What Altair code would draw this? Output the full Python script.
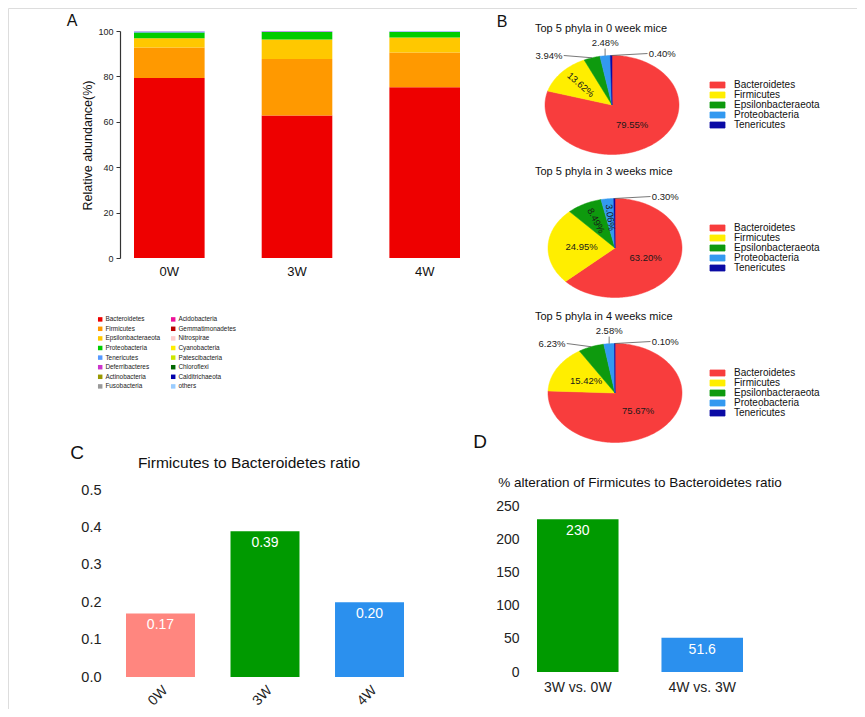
import math
import altair as alt
import numpy as np
import pandas as pd

# ---------------- data ----------------
# Panel A: relative abundance (%) of phyla per group
weeks = ["0W", "3W", "4W"]
phyla = ["Bacteroidetes", "Firmicutes", "Epsilonbacteraeota", "Proteobacteria",
         "Tenericutes", "Deferribacteres", "Actinobacteria", "Fusobacteria",
         "Acidobacteria", "Gemmatimonadetes", "Nitrospirae", "Cyanobacteria",
         "Patescibacteria", "Chloroflexi", "Calditrichaeota", "others"]
abund_0W = [79.3, 13.4, 4.1, 2.5, 0.3, 0.2, 0.0, 0.0, 0.0, 0.0, 0.0, 0.0, 0.0, 0.0, 0.0, 0.2]
abund_3W = [62.8, 24.9, 8.6, 3.3, 0.1, 0.2, 0.0, 0.0, 0.0, 0.0, 0.0, 0.0, 0.0, 0.0, 0.0, 0.1]
abund_4W = [75.2, 15.3, 6.6, 2.5, 0.1, 0.1, 0.0, 0.0, 0.0, 0.0, 0.0, 0.0, 0.0, 0.0, 0.0, 0.2]
phyla_colors = ["#EE0000", "#FF9900", "#FFC800", "#00CC00",
                "#5599FF", "#CC33CC", "#999900", "#999999",
                "#EE1199", "#BB0000", "#FFCCCC", "#FFEE00",
                "#CCE600", "#006600", "#0000AA", "#99CCFF"]

# Panel B: top 5 phyla (%)
pie_phyla = ["Bacteroidetes", "Firmicutes", "Epsilonbacteraeota", "Proteobacteria", "Tenericutes"]
pie_colors = ["#F83D3D", "#FFEE00", "#0E9A0E", "#3399F0", "#0A0AA5"]
pie_0W = [79.55, 13.62, 3.94, 2.48, 0.40]
pie_3W = [63.20, 24.95, 8.49, 3.06, 0.30]
pie_4W = [75.67, 15.42, 6.23, 2.58, 0.10]
pie_titles = ["Top 5 phyla in 0 week mice", "Top 5 phyla in 3 weeks mice", "Top 5 phyla in 4 weeks mice"]
# label placement style per slice
pie_modes_0W = ["in", "in_rot", "left", "top", "right"]
pie_modes_3W = ["in", "in", "in_rot", "in_rot", "right"]
pie_modes_4W = ["in", "in", "left", "top", "right"]

# Panel C
ratio_groups = ["0W", "3W", "4W"]
ratio_values = [0.17, 0.39, 0.20]
ratio_labels = ["0.17", "0.39", "0.20"]
ratio_colors = ["#FF867F", "#009A00", "#2B90EE"]

# Panel D
alter_groups = ["3W vs. 0W", "4W vs. 3W"]
alter_values = [230, 51.6]
alter_labels = ["230", "51.6"]
alter_colors = ["#009A00", "#2B90EE"]

# ---------------- layout helpers ----------------
W, H = 849, 701
def px(x):
    return x - 8
def py(y):
    return y - 8

FONT = "Liberation Sans, Arial, Helvetica, sans-serif"
NARROW = "Liberation Sans Narrow, Arial Narrow, Liberation Sans, sans-serif"

layers = []

# ---------------- Panel A ----------------
rows = []
for w, vals in zip(weeks, [abund_0W, abund_3W, abund_4W]):
    for i, (p, v) in enumerate(zip(phyla, vals)):
        rows.append({"week": w, "phylum": p, "value": v, "rank": i})
dfA = pd.DataFrame(rows)

A_bars = alt.Chart(dfA).mark_bar().encode(
    x=alt.X("week:N", sort=weeks,
            scale=alt.Scale(type="band", domain=weeks, range=[px(134), px(460)], paddingInner=0.447, paddingOuter=0),
            axis=alt.Axis(orient="bottom", offset=py(258) - H, title=None, domain=False, ticks=False,
                          labelAngle=0, labelFontSize=13, labelFont=NARROW, labelPadding=7,
                          labelColor="#111", grid=False)),
    y=alt.Y("value:Q", stack="zero",
            scale=alt.Scale(domain=[0, 100], range=[py(258), py(31)], nice=False, zero=True),
            axis=alt.Axis(orient="left", offset=-px(120), values=[0, 20, 40, 60, 80, 100],
                          title="Relative abundance(%)", titleFont=FONT, titleFontSize=12.5,
                          titleFontWeight="normal", titleColor="#111", titleAngle=-90,
                          titleX=87 - 120, titleY=py(145), titleAlign="center", titleBaseline="middle",
                          labelFont=NARROW, labelFontSize=9, labelColor="#222", labelPadding=3,
                          tickSize=4, tickColor="#333", domainColor="#333", domainWidth=1.2,
                          grid=False)),
    color=alt.Color("phylum:N",
                    scale=alt.Scale(domain=phyla, range=phyla_colors),
                    legend=alt.Legend(orient="none", legendX=px(97), legendY=py(316), title=None,
                                      columns=2, symbolType="square", symbolSize=20,
                                      symbolStrokeWidth=0, labelFontSize=6.4, labelFont=NARROW,
                                      labelColor="#222", labelOffset=2, rowPadding=2.6,
                                      columnPadding=9)),
    order=alt.Order("rank:Q", sort="ascending"),
)
layers.append(A_bars)

# ---------------- Panel B (pies) ----------------
pie_geo = [(612, 105), (615, 248), (615, 393)]
RX, RY = 67, 49.5


def pie_polygons(values):
    out = []
    total = sum(values)
    start = 0.0
    for name, v in zip(pie_phyla, values):
        a0 = start / total * 360.0
        a1 = (start + v) / total * 360.0
        n = max(2, int(math.ceil(a1 - a0)) + 1)
        pts = [(0.0, 0.0)]
        for a in np.linspace(a0, a1, n):
            pts.append((math.sin(math.radians(a)), math.cos(math.radians(a))))
        pts.append((0.0, 0.0))
        for i, (ux, uy) in enumerate(pts):
            out.append({"phylum": name, "idx": i, "ux": ux, "uy": uy})
        start += v
    return pd.DataFrame(out)


def pie_labels(values, modes):
    labs, lines = [], []
    total = sum(values)
    start = 0.0
    for name, v, mode in zip(pie_phyla, values, modes):
        mid = (start + v / 2.0) / total * 360.0
        sx, sy = math.sin(math.radians(mid)), math.cos(math.radians(mid))
        txt = f"{v:.2f}%"
        if mode == "in":
            labs.append({"label": txt, "ux": 0.5 * sx, "uy": 0.5 * sy, "ang": 0, "side": "center"})
        elif mode == "in_rot":
            labs.append({"label": txt, "ux": 0.62 * sx, "uy": 0.62 * sy, "ang": mid - 270, "side": "center"})
        elif mode == "left":
            labs.append({"label": txt, "ux": -0.74, "uy": 1.0, "ang": 0, "side": "right"})
            lines.append({"x1": -0.72, "y1": 1.0, "x2": sx, "y2": sy})
        elif mode == "top":
            labs.append({"label": txt, "ux": sx, "uy": 1.25, "ang": 0, "side": "center"})
            lines.append({"x1": sx, "y1": 1.14, "x2": sx, "y2": sy})
        elif mode == "right":
            labs.append({"label": txt, "ux": 0.55, "uy": 1.04, "ang": 0, "side": "left"})
            lines.append({"x1": 0.53, "y1": 1.04, "x2": sx, "y2": sy})
        start += v
    return pd.DataFrame(labs), pd.DataFrame(lines)


pie_scale = alt.Scale(domain=pie_phyla, range=pie_colors)
for (cx, cy), vals, modes, title in zip(pie_geo, [pie_0W, pie_3W, pie_4W],
                                        [pie_modes_0W, pie_modes_3W, pie_modes_4W], pie_titles):
    xs = alt.Scale(domain=[-1, 1], range=[px(cx - RX), px(cx + RX)], nice=False, zero=False)
    ys = alt.Scale(domain=[-1, 1], range=[py(cy + RY), py(cy - RY)], nice=False, zero=False)
    poly = pie_polygons(vals)
    labs, lines = pie_labels(vals, modes)
    layers.append(
        alt.Chart(poly).mark_line(strokeWidth=0.5).encode(
            x=alt.X("ux:Q", scale=xs, axis=None),
            y=alt.Y("uy:Q", scale=ys, axis=None),
            fill=alt.Fill("phylum:N", scale=pie_scale,
                          legend=alt.Legend(orient="none", legendX=px(712.5), legendY=py(cy - 25),
                                            title=None, symbolType="M-2.5,-1H2.5V1H-2.5Z",
                                            symbolSize=36, symbolStrokeColor="#000",
                                            symbolStrokeWidth=0.8, symbolOpacity=1,
                                            labelFontSize=10, labelFont=FONT, labelColor="#111",
                                            labelOffset=11.5, rowPadding=0)),
            stroke=alt.Stroke("phylum:N", scale=pie_scale, legend=None),
            order=alt.Order("idx:Q"),
        )
    )
    if len(lines):
        layers.append(
            alt.Chart(lines).mark_rule(color="#555", strokeWidth=0.8).encode(
                x=alt.X("x1:Q", scale=xs, axis=None), y=alt.Y("y1:Q", scale=ys, axis=None),
                x2="x2:Q", y2="y2:Q")
        )
    for side in ["center", "left", "right"]:
        sub = labs[labs["side"] == side]
        if len(sub) == 0:
            continue
        layers.append(
            alt.Chart(sub).mark_text(font=FONT, fontSize=9.5, color="#1a1a1a", align=side,
                                     baseline="middle").encode(
                x=alt.X("ux:Q", scale=xs, axis=None),
                y=alt.Y("uy:Q", scale=ys, axis=None),
                text="label:N",
                angle=alt.Angle("ang:Q", scale=None),
            )
        )
    layers.append(
        alt.Chart(pd.DataFrame({"t": [title]})).mark_text(
            font=FONT, fontSize=11, color="#111", align="left", baseline="middle").encode(
            x=alt.value(px(535)), y=alt.value(py(cy - 76)), text="t:N")
    )

# ---------------- Panel C ----------------
dfC = pd.DataFrame({"group": ratio_groups, "value": ratio_values, "label": ratio_labels})
xC = alt.Scale(type="band", domain=ratio_groups, range=[px(126), px(404)], paddingInner=0.34, paddingOuter=0)
yC = alt.Scale(domain=[0, 0.5], range=[py(677), py(490)], nice=False, zero=True)
layers.append(
    alt.Chart(dfC).mark_bar().encode(
        x=alt.X("group:N", sort=ratio_groups, scale=xC,
                axis=alt.Axis(orient="bottom", offset=py(677) - H, title=None, domain=False, ticks=False,
                              labelAngle=-45, labelAlign="right", labelBaseline="top", labelPadding=6,
                              labelFontSize=14, labelFont=FONT, labelColor="#222", grid=False)),
        y=alt.Y("value:Q", scale=yC,
                axis=alt.Axis(orient="left", offset=-px(106), values=[0, 0.1, 0.2, 0.3, 0.4, 0.5],
                              format=".1f", title=None, domain=False, ticks=False, labelPadding=5,
                              labelFontSize=14.5, labelFont=FONT, labelColor="#222", grid=False)),
        color=alt.Color("group:N", scale=alt.Scale(domain=ratio_groups, range=ratio_colors), legend=None),
    )
)
layers.append(
    alt.Chart(dfC).mark_text(dy=12, fontSize=14, font=FONT, color="white").encode(
        x=alt.X("group:N", sort=ratio_groups, scale=xC, axis=None, bandPosition=0.5),
        y=alt.Y("value:Q", scale=yC, axis=None),
        text="label:N")
)
layers.append(
    alt.Chart(pd.DataFrame({"t": ["Firmicutes to Bacteroidetes ratio"]})).mark_text(
        font=FONT, fontSize=15.5, color="#111", align="center", baseline="middle").encode(
        x=alt.value(px(249)), y=alt.value(py(463)), text="t:N")
)

# ---------------- Panel D ----------------
dfD = pd.DataFrame({"group": alter_groups, "value": alter_values, "label": alter_labels})
xD = alt.Scale(type="band", domain=alter_groups, range=[px(537), px(743)], paddingInner=0.345, paddingOuter=0)
yD = alt.Scale(domain=[0, 250], range=[py(672), py(506)], nice=False, zero=True)
layers.append(
    alt.Chart(dfD).mark_bar().encode(
        x=alt.X("group:N", sort=alter_groups, scale=xD,
                axis=alt.Axis(orient="bottom", offset=py(672) - H, title=None, domain=False, ticks=False,
                              labelAngle=0, labelPadding=8, labelFontSize=14, labelFont=FONT,
                              labelColor="#222", grid=False)),
        y=alt.Y("value:Q", scale=yD,
                axis=alt.Axis(orient="left", offset=-px(524), values=[0, 50, 100, 150, 200, 250],
                              title=None, domain=False, ticks=False, labelPadding=5,
                              labelFontSize=14, labelFont=FONT, labelColor="#222", grid=False)),
        color=alt.Color("group:N", scale=alt.Scale(domain=alter_groups, range=alter_colors), legend=None),
    )
)
layers.append(
    alt.Chart(dfD).mark_text(dy=12, fontSize=14, font=FONT, color="white").encode(
        x=alt.X("group:N", sort=alter_groups, scale=xD, axis=None, bandPosition=0.5),
        y=alt.Y("value:Q", scale=yD, axis=None),
        text="label:N")
)
layers.append(
    alt.Chart(pd.DataFrame({"t": ["% alteration of Firmicutes to Bacteroidetes ratio"]})).mark_text(
        font=FONT, fontSize=13.5, color="#111", align="center", baseline="middle").encode(
        x=alt.value(px(640)), y=alt.value(py(483)), text="t:N")
)

# ---------------- panel letters ----------------
for letter, lx, ly, fs in [("A", 72, 21, 16), ("B", 502, 22, 16), ("C", 77, 453, 19), ("D", 480, 442, 19)]:
    layers.append(
        alt.Chart(pd.DataFrame({"t": [letter]})).mark_text(
            font=FONT, fontSize=fs, color="#111", align="center", baseline="middle").encode(
            x=alt.value(px(lx)), y=alt.value(py(ly)), text="t:N")
    )

chart = alt.layer(*layers).resolve_scale(
    x="independent", y="independent", color="independent", fill="independent", stroke="independent"
).resolve_axis(
    x="independent", y="independent"
).resolve_legend(
    color="independent", fill="independent", stroke="independent"
).properties(
    width=W, height=H, autosize=alt.AutoSizeParams(type="none"), padding=0
).configure_view(strokeWidth=0).configure(background="white")

chart.save("out.html", embed_options={"renderer": "svg", "actions": False})
